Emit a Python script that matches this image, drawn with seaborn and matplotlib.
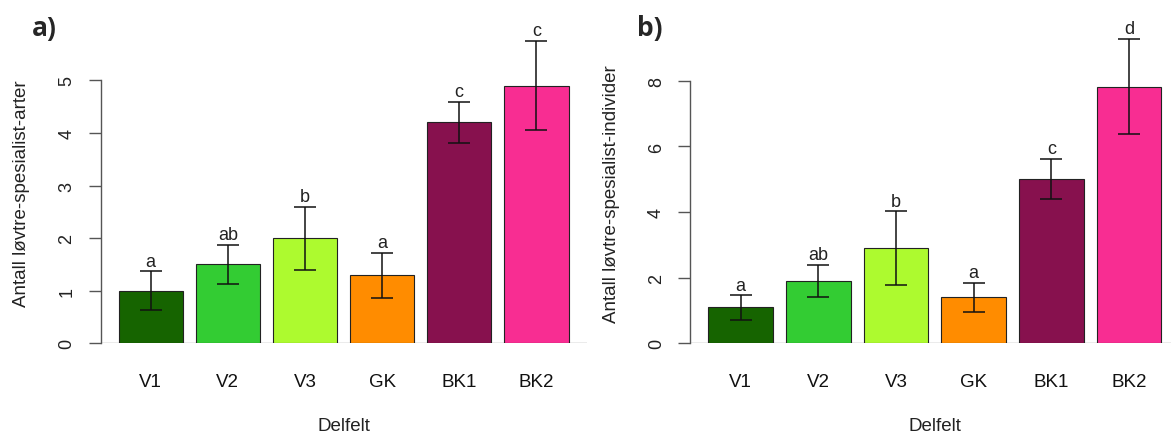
import seaborn as sns
import pandas as pd
import matplotlib.pyplot as plt

# Values (means, lower and upper ends of the error bars)
delfelt = ["V1", "V2", "V3", "GK", "BK1", "BK2"]
colors = ["#166400", "#33cc33", "#adfa2f", "#ff8c00", "#87114e", "#f82d92"]

arter_mean = [1.0, 1.5, 2.0, 1.3, 4.2, 4.9]
arter_lo = [0.63, 1.12, 1.40, 0.87, 3.81, 4.05]
arter_hi = [1.37, 1.87, 2.60, 1.72, 4.59, 5.75]
arter_letters = ["a", "ab", "b", "a", "c", "c"]

indiv_mean = [1.1, 1.9, 2.9, 1.4, 5.0, 7.8]
indiv_lo = [0.71, 1.41, 1.78, 0.94, 4.40, 6.37]
indiv_hi = [1.47, 2.39, 4.02, 1.85, 5.63, 9.28]
indiv_letters = ["a", "ab", "b", "a", "c", "d"]

sns.set_theme(style="white")
plt.rcParams["font.family"] = ["Liberation Sans", "DejaVu Sans"]

W, H = 1171, 439
fig = plt.figure(figsize=(W / 100, H / 100), dpi=100)

panels = [
    dict(left=100.5, width=486, ymax=6.0, top_tick=5, ticks=[0, 1, 2, 3, 4, 5],
         mean=arter_mean, lo=arter_lo, hi=arter_hi, letters=arter_letters,
         ylabel="Antall løvtre-spesialist-arter", tag="a)", tag_x=32),
    dict(left=690, width=489.6, ymax=9.62, top_tick=8, ticks=[0, 2, 4, 6, 8],
         mean=indiv_mean, lo=indiv_lo, hi=indiv_hi, letters=indiv_letters,
         ylabel="Antall løvtre-spesialist-individer", tag="b)", tag_x=637),
]

bottom_px = 344.3
height_px = 315.6

for p in panels:
    ax = fig.add_axes([p["left"] / W, (H - bottom_px) / H, p["width"] / W, height_px / H])
    df = pd.DataFrame({"Delfelt": delfelt, "Verdi": p["mean"]})
    sns.barplot(data=df, x="Delfelt", y="Verdi", hue="Delfelt", palette=colors,
                legend=False, width=1 / 1.2, edgecolor="#222222", linewidth=0.8,
                saturation=1, ax=ax)

    # error bars
    mean = p["mean"]
    yerr = [[m - l for m, l in zip(mean, p["lo"])], [h - m for m, h in zip(mean, p["hi"])]]
    ax.errorbar(range(len(delfelt)), mean, yerr=yerr, fmt="none", ecolor="#111111",
                elinewidth=1.1, capsize=8, capthick=1.1, zorder=5)

    # significance letters
    for i, (h, lab) in enumerate(zip(p["hi"], p["letters"])):
        ax.annotate(lab, (i, h), xytext=(0, 4), textcoords="offset points",
                    ha="center", va="baseline", fontsize=13, color="#222222",
                    annotation_clip=False)

    ax.set_xlim(-0.65, 5.65)
    ax.set_ylim(0, p["ymax"])
    ax.axhline(0, color="#9a9a9a", lw=1.0, zorder=0)

    sns.despine(ax=ax, top=True, right=True, bottom=True)
    ax.spines["left"].set_bounds(0, p["top_tick"])
    ax.spines["left"].set_color("#555555")
    ax.spines["left"].set_linewidth(1.0)

    ax.set_yticks(p["ticks"])
    ax.set_yticklabels([str(t) for t in p["ticks"]], rotation=90, va="center")
    ax.tick_params(axis="y", left=True, length=9, width=1.0, color="#555555",
                   pad=9, labelsize=13, labelcolor="#222222")
    ax.tick_params(axis="x", length=0, pad=21.5, labelsize=13.5, labelcolor="#111111")

    ax.set_xlabel("Delfelt", fontsize=13.5, color="#222222")
    ax.xaxis.set_label_coords(0.5, -0.232)
    ax.set_ylabel(p["ylabel"], fontsize=13.5, color="#222222")
    ax.yaxis.set_label_coords(-70 / p["width"], 0.476)

    fig.text(p["tag_x"] / W, (H - 36) / H, p["tag"], fontsize=19, fontweight="bold",
             family=["Open Sans", "DejaVu Sans"], ha="left", va="baseline")

fig.savefig("out.png", dpi=100)
